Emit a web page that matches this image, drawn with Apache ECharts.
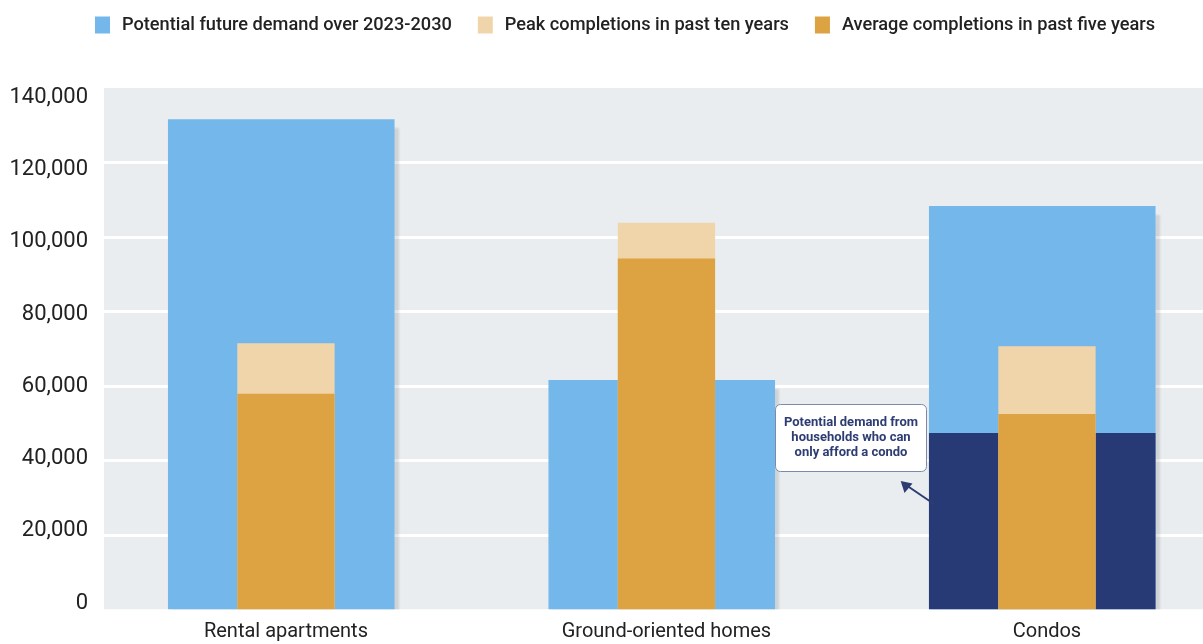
<!DOCTYPE html>
<html>
<head>
<meta charset="utf-8">
<script src="https://cdn.jsdelivr.net/npm/echarts@6/dist/echarts.min.js"></script>
<style>
html,body{margin:0;padding:0;background:#fff;}
#chart{width:1203px;height:644px;}
</style>
</head>
<body>
<div id="chart"></div>
<script>
// ---- data ----
const categories = ['Rental apartments', 'Ground-oriented homes', 'Condos'];
const demandTotal = [131600, 61600, 108300];          // Potential future demand over 2023-2030
const condoOnlyDemand = [null, null, 47400];          // households who can only afford a condo
const peakCompletions = [71500, 103800, 70700];       // Peak completions in past ten years
const avgCompletions = [57900, 94200, 52500];         // Average completions in past five years
const yTicks = [0, 20000, 40000, 60000, 80000, 100000, 120000, 140000];
const yTickLabels = ['0', '20,000', '40,000', '60,000', '80,000', '100,000', '120,000', '140,000'];
const seriesNames = ['Potential future demand over 2023-2030', 'Peak completions in past ten years', 'Average completions in past five years'];
const annotationText = 'Potential demand from\nhouseholds who can\nonly afford a condo';

const FONT = 'Roboto, "Noto Sans", sans-serif';
const chart = echarts.init(document.getElementById('chart'));

// per-label vertical nudges (labels are spread slightly tighter than the gridlines)
const rich = {};
yTicks.forEach(function (v, k) {
  const d = -6.5 + 2.26 * k;
  rich['s' + k] = {
    fontSize: 22, color: '#222', fontFamily: FONT,
    padding: d >= 0 ? [2 * d, 0, 0, 0] : [0, 0, -2 * d, 0]
  };
});

const gTop = 88, gBottom = 644 - 609.5;
const option = {
  animation: false,
  backgroundColor: '#fff',
  legend: {
    data: seriesNames,
    left: 90, top: 11,
    icon: 'rect',
    itemWidth: 15, itemHeight: 17, itemGap: 26,
    itemStyle: { shadowBlur: 0, shadowOffsetX: 0, shadowOffsetY: 0, shadowColor: 'transparent' },
    textStyle: { fontFamily: FONT, fontSize: 18.2, fontWeight: 500, color: '#222', padding: [0, 0, 0, 7] }
  },
  grid: [
    { left: 104, right: 0, top: gTop, bottom: gBottom, show: true, backgroundColor: '#eaedf0', borderWidth: 0, outerBoundsMode: 'none' },
    { left: 91, width: 1141.5, top: gTop, bottom: gBottom, outerBoundsMode: 'none' },
    { left: 95.7, width: 1141.5, top: gTop, bottom: gBottom, outerBoundsMode: 'none' }
  ],
  xAxis: [
    { type: 'category', gridIndex: 0, data: categories, show: false },
    { type: 'category', gridIndex: 1, data: categories, show: false },
    { type: 'category', gridIndex: 2, data: categories, z: 6,
      axisLine: { show: false }, axisTick: { show: false },
      axisLabel: { fontFamily: FONT, fontSize: 20, color: '#222', margin: 12 } }
  ],
  yAxis: [
    { type: 'value', gridIndex: 0, min: 0, max: 140000, interval: 20000,
      axisLine: { show: false }, axisTick: { show: false },
      splitLine: { show: true, showMaxLine: false, showMinLine: false, lineStyle: { color: '#ffffff', width: 3 } },
      axisLabel: {
        margin: 16,
        formatter: function (v) {
          const k = yTicks.indexOf(v);
          return '{s' + k + '|' + yTickLabels[k] + '}';
        },
        rich: rich
      } },
    { type: 'value', gridIndex: 1, min: 0, max: 140000, interval: 20000, show: false, splitLine: { show: false } },
    { type: 'value', gridIndex: 2, min: 0, max: 140000, interval: 20000, show: false, splitLine: { show: false } }
  ],
  series: [
    { name: seriesNames[0], type: 'bar', xAxisIndex: 1, yAxisIndex: 1, data: demandTotal,
      barWidth: 226.6, barGap: '-100%',
      itemStyle: { color: '#74b7ea', shadowColor: 'rgba(0,0,0,0.11)', shadowBlur: 2, shadowOffsetX: 4, shadowOffsetY: 9 } },
    { name: 'Potential demand from households who can only afford a condo', type: 'bar', xAxisIndex: 1, yAxisIndex: 1,
      data: condoOnlyDemand, barWidth: 226.6, barGap: '-100%',
      itemStyle: { color: '#283a76' } },
    { name: seriesNames[1], type: 'bar', xAxisIndex: 2, yAxisIndex: 2, data: peakCompletions,
      barWidth: 97.3, barGap: '-100%', itemStyle: { color: '#f0d5aa' } },
    { name: seriesNames[2], type: 'bar', xAxisIndex: 2, yAxisIndex: 2, data: avgCompletions,
      barWidth: 97.3, barGap: '-100%', itemStyle: { color: '#dda242' } }
  ],
  graphic: [
    // white strip below plot area (hides bar shadow overflow)
    { type: 'rect', z: 3, silent: true, shape: { x: 0, y: 609.5, width: 1203, height: 40 }, style: { fill: '#ffffff' } },
    // annotation box
    { type: 'rect', z: 20, shape: { x: 775.5, y: 404.5, width: 151, height: 67, r: 5 },
      style: { fill: '#ffffff', stroke: '#7c89ad', lineWidth: 1 } },
    { type: 'text', z: 21, x: 851, y: 438,
      style: { text: annotationText, fill: '#2d3c72', font: 'bold 13px ' + FONT, align: 'center', verticalAlign: 'middle', lineHeight: 15 } },
    // arrow
    { type: 'polyline', z: 20, shape: { points: [[934, 504], [906, 485]] },
      style: { stroke: '#2d3c72', lineWidth: 2, fill: null } },
    { type: 'polygon', z: 20, shape: { points: [[900.7, 481], [912.5, 483.5], [904.5, 493]] },
      style: { fill: '#2d3c72' } }
  ]
};
chart.setOption(option);
</script>
</body>
</html>
